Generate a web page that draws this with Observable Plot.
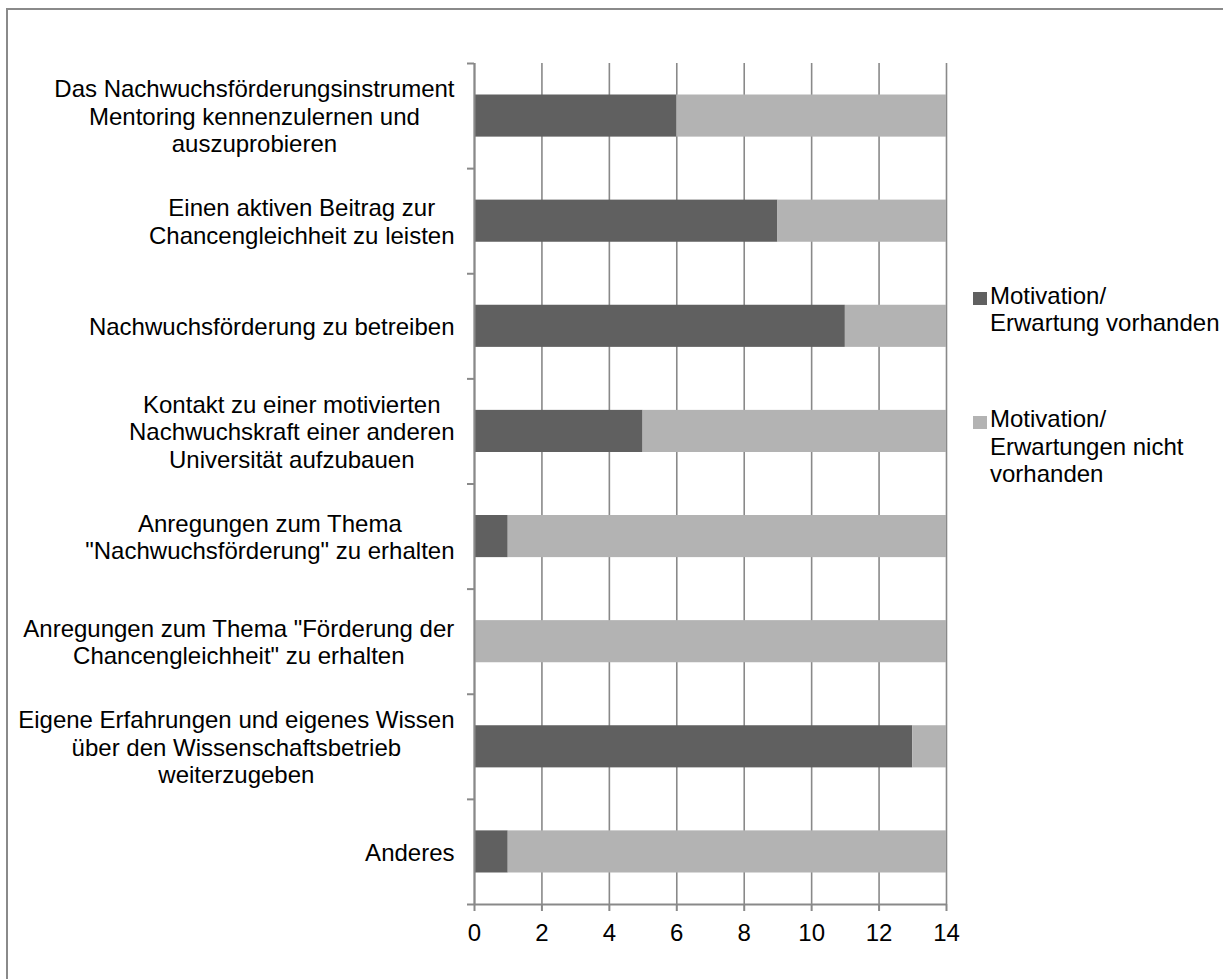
<!DOCTYPE html>
<html>
<head>
<meta charset="utf-8">
<script src="https://cdn.jsdelivr.net/npm/d3@7"></script>
<script src="https://cdn.jsdelivr.net/npm/@observablehq/plot@0.6"></script>
<style>
  html, body { margin: 0; padding: 0; background: #fff; overflow: hidden; }
  body { width: 1223px; height: 979px; position: relative; font-family: "Liberation Sans", Arial, sans-serif; }
  #frame { position: absolute; left: 6px; top: 8px; width: 1400px; height: 1200px;
           border-top: 2px solid #8a8a8a; border-left: 2px solid #8a8a8a; box-sizing: border-box; }
  #chart { position: absolute; left: 0; top: 0; }
  .legend { position: absolute; left: 973px; font-size: 24px; line-height: 27.5px; color: #000; }
  .legend .key { position: absolute; left: 0; width: 14px; height: 13px; }
  .legend .label { position: absolute; left: 17px; white-space: nowrap; }
</style>
</head>
<body>
<div id="frame"></div>
<div id="chart"></div>
<script>
// Reasons for taking part as a mentor (number of answers)
const categories = [
  "Das Nachwuchsförderungsinstrument\nMentoring kennenzulernen und\nauszuprobieren",
  "Einen aktiven Beitrag zur\nChancengleichheit zu leisten",
  "Nachwuchsförderung zu betreiben",
  "Kontakt zu einer motivierten\nNachwuchskraft einer anderen\nUniversität aufzubauen",
  "Anregungen zum Thema\n\"Nachwuchsförderung\" zu erhalten",
  "Anregungen zum Thema \"Förderung der\nChancengleichheit\" zu erhalten",
  "Eigene Erfahrungen und eigenes Wissen\nüber den Wissenschaftsbetrieb\nweiterzugeben",
  "Anderes"
];
const present = [6, 9, 11, 5, 1, 0, 13, 1];
const absent = [8, 5, 3, 9, 13, 14, 1, 13];
const seriesNames = ["Motivation/\nErwartung vorhanden", "Motivation/\nErwartungen nicht\nvorhanden"];
const seriesColors = ["#606060", "#b3b3b3"];
const xTicks = [0, 2, 4, 6, 8, 10, 12, 14];

// long table: one row per category and series, category index as band position
const rows = categories.flatMap((c, i) => [
  {cat: c, i0: i, i1: i + 1, series: seriesNames[0], value: present[i]},
  {cat: c, i0: i, i1: i + 1, series: seriesNames[1], value: absent[i]}
]);

const fontFamily = "'Liberation Sans', Arial, sans-serif";
const fontSize = 24;
const axisColor = "#898989";

// measure label blocks so each multi-line label is centred on its own width
const ctx = document.createElement("canvas").getContext("2d");
ctx.font = `${fontSize}px ${fontFamily}`;
const blockWidth = (s) => Math.max(...s.split("\n").map((l) => ctx.measureText(l).width));
const labelGap = 20;

const labelMarks = categories.map((c, i) =>
  Plot.text([{cat: c, i}], {
    x: 0,
    y: (d) => d.i + 0.5,
    text: "cat",
    textAnchor: "middle",
    lineAnchor: "middle",
    lineHeight: 1.145,
    fontSize,
    fill: "#000",
    dx: -(labelGap + blockWidth(c) / 2)
  })
);

const chart = Plot.plot({
  width: 1223,
  height: 979,
  marginLeft: 474,
  marginRight: 277,
  marginTop: 63,
  marginBottom: 75,
  style: {fontFamily, fontSize: `${fontSize}px`, background: "transparent", color: "#000"},
  x: {domain: [0, 14], axis: null},
  y: {domain: [0, categories.length], reverse: true, axis: null},
  color: {domain: seriesNames, range: seriesColors},
  marks: [
    Plot.gridX(xTicks, {stroke: axisColor, strokeOpacity: 1, strokeWidth: 1.6}),
    Plot.rectX(rows, {
      x: "value",
      y1: "i0",
      y2: "i1",
      fill: "series",
      insetTop: 31.5,
      insetBottom: 31.5
    }),
    Plot.ruleX([0], {stroke: axisColor, strokeWidth: 2}),
    Plot.ruleY([categories.length], {stroke: axisColor, strokeWidth: 2}),
    Plot.axisY(d3.range(categories.length + 1), {
      tickSize: 7,
      tickFormat: () => "",
      stroke: axisColor,
      strokeWidth: 2
    }),
    Plot.axisX(xTicks, {
      tickSize: 7,
      tickPadding: 12,
      stroke: axisColor,
      strokeWidth: 2,
      fill: "#000",
      fontSize,
      label: null
    }),
    ...labelMarks
  ]
});
document.getElementById("chart").append(chart);

// legend to the right of the plot
const legendTops = [281.5, 405];
seriesNames.forEach((name, k) => {
  const item = document.createElement("div");
  item.className = "legend";
  item.style.top = legendTops[k] + "px";
  const key = document.createElement("div");
  key.className = "key";
  key.style.background = seriesColors[k];
  key.style.top = "10.5px";
  const label = document.createElement("div");
  label.className = "label";
  label.innerHTML = name.split("\n").join("<br>");
  item.append(key, label);
  document.body.append(item);
});
</script>
</body>
</html>
